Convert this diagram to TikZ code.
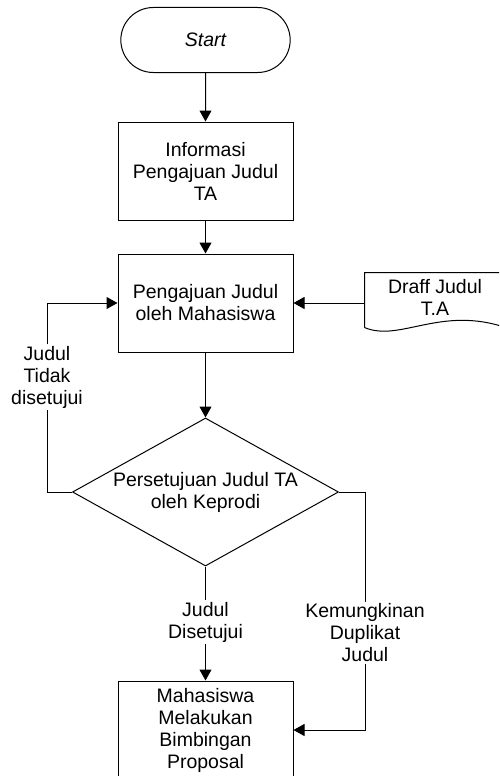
\documentclass[tikz,border=0pt]{standalone}
\usepackage{fontspec}
\setmainfont{Liberation Sans}
\usetikzlibrary{shapes.geometric,shapes.misc,arrows.meta}

\begin{document}
\begin{tikzpicture}[x=1pt,y=-1pt,line width=1pt,
  >={Triangle[length=11pt,width=12pt]},
  every node/.style={font=\fontsize{19.5}{22}\selectfont,align=center},
  terminal/.style={draw,rounded rectangle,minimum width=176pt,minimum height=65pt},
  proses/.style={draw,rectangle,minimum width=175pt,minimum height=98pt,inner sep=2pt},
  keputusan/.style={draw,diamond,aspect=1.8,inner sep=0pt,minimum width=266pt,minimum height=148pt},
  ket/.style={inner sep=1pt}]
\useasboundingbox (0,0) rectangle (499,776);
\clip (0,0) rectangle (499,776);

%Nodes
\node[terminal] (start) at (205.5,40) {\itshape Start};

\node[proses] (info) at (205.5,171) {Informasi\\Pengajuan Judul\\TA};

\node[proses] (ajuan) at (205.5,303) {Pengajuan Judul\\oleh Mahasiswa};
\node[minimum width=140pt,minimum height=48pt] (draff) at (435,297) {Draff Judul\\T.A};

\node[keputusan] (setuju) at (205.5,492) {Persetujuan Judul TA\\oleh Keprodi};

\node[ket] (tolak) at (47,377) {Judul\\Tidak\\disetujui};
\node[ket] (acc) at (205.5,622) {Judul\\Disetujui};
\node[ket] (duplikat) at (365,633) {Kemungkinan\\Duplikat\\Judul};

\node[proses] (bimbingan) at (205.5,730) {Mahasiswa\\Melakukan\\Bimbingan\\Proposal};

%Document shape
\draw ([yshift=-6pt]draff.south west) -- (draff.north west) -- (draff.north east) -- ([yshift=-6pt]draff.south east)
  .. controls +(-65,-22) and +(35,15) .. ([yshift=-6pt]draff.south west);

%Lines
\draw[->] (start) -- (info);
\draw[->] (info) -- (ajuan);
\draw[->] (ajuan) -- (setuju);
\draw[->] (ajuan.east -| draff.west) -- (ajuan.east);

\draw (setuju.west) -| (tolak.south);
\draw[->] (tolak.north) |- (ajuan.west);

\draw (setuju.south) -- (acc.north);
\draw[->] (acc.south) -- (bimbingan.north);

\draw (setuju.east) -| (duplikat.north);
\draw[->] (duplikat.south) |- (bimbingan.east);
\end{tikzpicture}
\end{document}
